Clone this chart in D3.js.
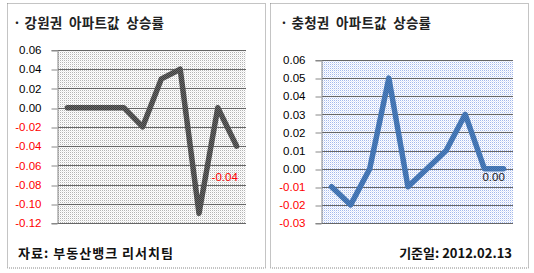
<!DOCTYPE html>
<html><head><meta charset="utf-8">
<script src="https://cdn.jsdelivr.net/npm/d3@7/dist/d3.min.js"></script>
<style>
html,body{margin:0;padding:0;background:#fff;}
svg{display:block;}
</style></head>
<body>
<svg id="c" width="534" height="273"></svg>
<script>
// Data
const categories = ["1","2","3","4","5","6","7","8","9","10"];
const gangwonValues = [0.00,0.00,0.00,0.00,-0.02,0.03,0.04,-0.11,0.00,-0.04];
const chungcheongValues = [-0.01,-0.02,0.00,0.05,-0.01,0.00,0.01,0.03,0.00,0.00];
const gangwonTicks = [0.06,0.04,0.02,0.00,-0.02,-0.04,-0.06,-0.08,-0.10,-0.12];
const chungcheongTicks = [0.06,0.05,0.04,0.03,0.02,0.01,0.00,-0.01,-0.02,-0.03];
const titles = ["· 강원권  아파트값  상승률","· 충청권  아파트값  상승률"];
const footers = ["자료: 부동산뱅크 리서치팀","기준일: 2012.02.13"];
const lastLabels = ["-0.04","0.00"];

const svg = d3.select("#c");
const defs = svg.append("defs");
function dots(id, base, dot, dot2){
  const p = defs.append("pattern").attr("id",id).attr("patternUnits","userSpaceOnUse")
    .attr("width",2).attr("height",2);
  p.append("rect").attr("width",2).attr("height",2).attr("fill",base);
  p.append("rect").attr("x",0).attr("y",0).attr("width",1).attr("height",1).attr("fill",dot);
  p.append("rect").attr("x",1).attr("y",1).attr("width",1).attr("height",1).attr("fill",dot2);
}
dots("bgGray","#ffffff","#b4b4b4","#ececec");
dots("bgBlue","#ffffff","#a3b8ec","#e0e6f9");
dots("lnGray","#6a6a6a","#3c3c3c","#3c3c3c");
dots("lnBlue","#4f81bd","#3a6aaa","#3a6aaa");

const fmt = v => d3.format(".2f")(v).replace("−","-");
const numFont = "'Liberation Sans', Arial, sans-serif";
const krFont = "'Noto Sans CJK KR', sans-serif";

const panels = [
  {bx:7.5, bw:258, title:titles[0], titleX:13, footer:footers[0], footerAnchor:"start", footerX:18, footerW:155,
   values:gangwonValues, ticks:gangwonTicks, dom:[-0.12,0.06], px:[58,246], py:[50,223],
   bg:"url(#bgGray)", ln:"url(#lnGray)", label:lastLabels[0], labelColor:"#ff0000", labelDx:-25, labelY:181},
  {bx:270.5, bw:258, title:titles[1], titleX:280, footer:footers[1], footerAnchor:"end", footerX:512, footerW:null,
   values:chungcheongValues, ticks:chungcheongTicks, dom:[-0.03,0.06], px:[322,513], py:[60,223],
   bg:"url(#bgBlue)", ln:"url(#lnBlue)", label:lastLabels[1], labelColor:"#1a1a1a", labelDx:-21, labelY:181}
];

panels.forEach(p=>{
  const g = svg.append("g");
  g.append("rect").attr("x",p.bx).attr("y",3.5).attr("width",p.bw).attr("height",264.5)
    .attr("fill","none").attr("stroke","#888").attr("stroke-dasharray","1,1");
  g.append("text").attr("x",p.titleX).attr("y",28).text(p.title)
    .attr("xml:space","preserve").style("white-space","pre")
    .attr("textLength",151).attr("lengthAdjust","spacing")
    .attr("font-family",krFont).attr("font-weight","bold").attr("font-size",13.5).attr("fill","#222");
  const ft = g.append("text").attr("x",p.footerX).attr("y",258).text(p.footer).attr("text-anchor",p.footerAnchor)
    .attr("font-family",krFont).attr("font-weight","bold").attr("font-size",13).attr("fill","#111");
  if (p.footerW) ft.attr("textLength",p.footerW).attr("lengthAdjust","spacing");

  const x = d3.scaleBand().domain(categories).range(p.px);
  const y = d3.scaleLinear().domain(p.dom).range([p.py[1],p.py[0]]);
  g.append("rect").attr("x",p.px[0]).attr("y",p.py[0]).attr("width",p.px[1]-p.px[0])
    .attr("height",p.py[1]-p.py[0]).attr("fill",p.bg);
  // gridlines
  g.selectAll(".grid").data(p.ticks).enter().append("line")
    .attr("x1",p.px[0]).attr("x2",p.px[1])
    .attr("y1",d=>Math.round(y(d))+0.5).attr("y2",d=>Math.round(y(d))+0.5)
    .attr("stroke","#666").attr("stroke-width",1);
  // y axis
  const ax = g.append("g").attr("transform",`translate(${p.px[0]-0.5},0)`)
    .call(d3.axisLeft(y).tickValues(p.ticks).tickFormat(fmt).tickSize(6).tickPadding(10));
  ax.select(".domain").attr("stroke","#888");
  ax.selectAll(".tick line").attr("stroke","#888").attr("transform",function(d){return `translate(0,${Math.round(y(d))+0.5-y(d)})`;});
  ax.selectAll(".tick text").attr("font-family",numFont).attr("font-size",11.5)
    .attr("fill",d=>d<0?"#ff0000":"#000");
  // line
  const line = d3.line().x((d,i)=>x(categories[i])+x.bandwidth()/2).y(d=>y(d));
  g.append("path").datum(p.values).attr("d",line).attr("fill","none")
    .attr("stroke",p.ln).attr("stroke-width",5.5).attr("stroke-linejoin","round").attr("stroke-linecap","round");
  // label
  const lx = x(categories[categories.length-1])+x.bandwidth()/2;
  g.append("text").attr("x",lx+p.labelDx).attr("y",p.labelY).text(p.label)
    .attr("font-family",numFont).attr("font-size",11.5).attr("fill",p.labelColor);
});
</script>
</body></html>
